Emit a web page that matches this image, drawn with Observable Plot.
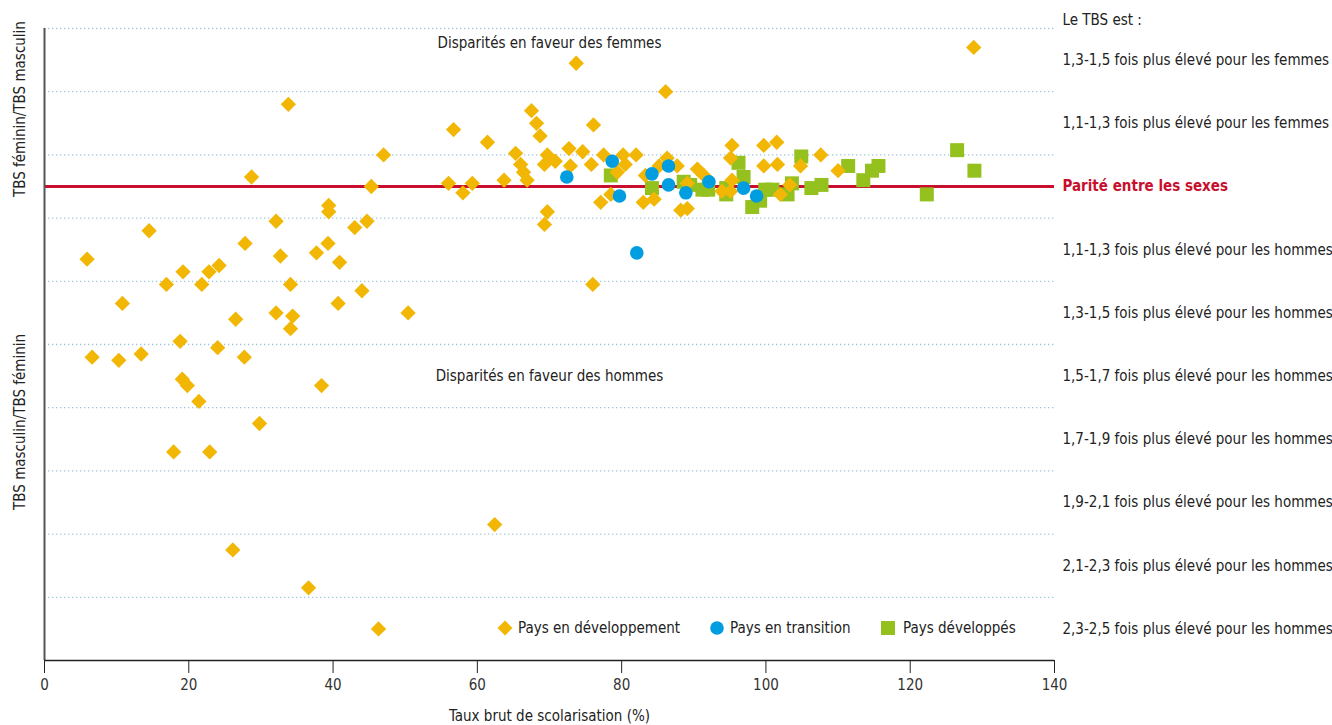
<!DOCTYPE html>
<html>
<head>
<meta charset="utf-8">
<script src="https://cdn.jsdelivr.net/npm/d3@7"></script>
<script src="https://cdn.jsdelivr.net/npm/@observablehq/plot@0.6"></script>
<style>
  html, body { margin: 0; padding: 0; background: #fff; }
  #wrap { position: relative; width: 1332px; height: 725px; }
  .lg { position: absolute; font-family: "DejaVu Sans Condensed", "Liberation Sans Narrow", sans-serif; font-size: 15px; color: #222; white-space: nowrap; line-height: 18px; }
</style>
</head>
<body>
<div id="wrap"></div>
<script>
// ---- Data: x = taux brut de scolarisation (%), y = écart de parité
// (y > 0 : TBS féminin/TBS masculin − 1 ; y < 0 : −(TBS masculin/TBS féminin − 1))
const paysEnDeveloppement = [
  [5.9,-0.23],[14.5,-0.14],[10.8,-0.37],[6.6,-0.54],[10.3,-0.55],[13.4,-0.53],[16.9,-0.31],[19.2,-0.27],
  [18.8,-0.49],[19.1,-0.61],[19.8,-0.63],[21.4,-0.68],[17.9,-0.84],[22.9,-0.84],[21.8,-0.31],[22.8,-0.27],
  [24.2,-0.25],[24.0,-0.51],[26.5,-0.42],[27.7,-0.54],[27.8,-0.18],[28.7,0.03],[29.8,-0.75],[32.1,-0.11],
  [32.7,-0.22],[32.1,-0.40],[34.1,-0.31],[34.4,-0.41],[34.1,-0.45],[33.8,0.26],[37.7,-0.21],[39.3,-0.18],
  [39.4,-0.06],[39.4,-0.08],[40.9,-0.24],[40.7,-0.37],[38.4,-0.63],[43.0,-0.13],[44.7,-0.11],[44.0,-0.33],
  [45.3,0.00],[47.0,0.10],[50.4,-0.40],[26.1,-1.15],[36.6,-1.27],[46.3,-1.40],[62.4,-1.07],[76.0,-0.31],
  [56.7,0.18],[56.0,0.01],[58.0,-0.02],[59.3,0.01],[61.4,0.14],[63.7,0.02],[65.3,0.105],[66.0,0.07],
  [66.4,0.045],[66.9,0.02],[67.5,0.24],[68.2,0.20],[68.7,0.16],[69.7,0.10],[69.3,0.07],[70.8,0.08],
  [69.7,-0.08],[69.3,-0.12],[73.7,0.39],[72.7,0.12],[72.9,0.065],[74.6,0.11],[75.8,0.07],[76.1,0.195],
  [77.5,0.10],[77.1,-0.05],[78.5,-0.025],[79.4,0.045],[80.2,0.10],[80.5,0.07],[82.0,0.10],[83.0,-0.05],
  [84.5,-0.04],[86.1,0.30],[85.2,0.065],[86.3,0.09],[87.7,0.065],[88.2,-0.075],[89.1,-0.07],[89.1,0.01],
  [90.5,0.055],[91.4,0.035],[83.3,0.035],[93.9,-0.015],[95.1,-0.015],[95.3,0.02],[95.3,0.13],[95.1,0.09],
  [99.7,0.13],[101.5,0.14],[99.7,0.065],[101.6,0.07],[104.8,0.065],[107.6,0.10],[110.0,0.05],[102.0,-0.025],
  [103.3,0.005],[128.8,0.44]
];
const paysEnTransition = [
  [72.4,0.03],[78.7,0.08],[79.7,-0.03],[84.2,0.04],[86.5,0.065],[86.5,0.005],[88.9,-0.02],[92.1,0.015],
  [96.9,-0.005],[98.7,-0.03],[82.1,-0.21]
];
const paysDeveloppes = [
  [78.5,0.035],[84.2,-0.005],[88.6,0.015],[89.5,0.005],[91.2,-0.01],[92.0,-0.01],[94.5,-0.025],[94.5,-0.005],
  [96.2,0.075],[96.9,0.03],[98.1,-0.065],[99.2,-0.045],[99.9,-0.01],[100.9,-0.01],[103.0,-0.025],[103.6,0.01],
  [104.9,0.095],[106.3,-0.005],[107.7,0.005],[111.4,0.065],[113.5,0.02],[114.7,0.05],[115.6,0.065],[122.3,-0.025],
  [126.5,0.115],[128.9,0.05]
];
const xTicks = [0, 20, 40, 60, 80, 100, 120, 140];
const gridLevels = [0.5, 0.3, 0.1, -0.1, -0.3, -0.5, -0.7, -0.9, -1.1, -1.3];
const bandCenters = [0.4, 0.2, -0.2, -0.4, -0.6, -0.8, -1.0, -1.2, -1.4];
const bandLabels = [
  "1,3-1,5 fois plus élevé pour les femmes",
  "1,1-1,3 fois plus élevé pour les femmes",
  "1,1-1,3 fois plus élevé pour les hommes",
  "1,3-1,5 fois plus élevé pour les hommes",
  "1,5-1,7 fois plus élevé pour les hommes",
  "1,7-1,9 fois plus élevé pour les hommes",
  "1,9-2,1 fois plus élevé pour les hommes",
  "2,1-2,3 fois plus élevé pour les hommes",
  "2,3-2,5 fois plus élevé pour les hommes"
];
const seriesNames = ["Pays en développement", "Pays en transition", "Pays développés"];
const seriesColors = ["#f2b705", "#009ee0", "#95c11f"];

const FONT = '"DejaVu Sans Condensed", "Liberation Sans Narrow", sans-serif';
const FS = 15;
const rows = arr => arr.map(([x, y]) => ({x, y}));
const bands = bandCenters.map((y, i) => ({y, label: bandLabels[i]}));

const chart = Plot.plot({
  width: 1332,
  height: 725,
  marginTop: 28,
  marginBottom: 65,
  marginLeft: 44,
  marginRight: 278,
  x: {domain: [0, 140]},
  y: {domain: [-1.5, 0.5], axis: null},
  style: {fontFamily: FONT, fontSize: FS + "px", color: "#222", background: "#fff"},
  marks: [
    Plot.ruleY(gridLevels, {stroke: "#9fc5dd", strokeWidth: 1.3, strokeDasharray: "1.3 2.7"}),
    Plot.ruleY([0], {stroke: "#c8102e", strokeWidth: 3}),
    Plot.ruleX([0], {stroke: "#555", strokeWidth: 2}),
    Plot.ruleY([-1.5], {stroke: "#222", strokeWidth: 1.5}),
    Plot.axisX({ticks: xTicks, tickSize: 13, tickPadding: 6, label: null, stroke: "#222", fill: "#333", fontSize: FS}),
    Plot.text(["Taux brut de scolarisation (%)"], {frameAnchor: "bottom", dy: 56, lineAnchor: "middle", fill: "#222", fontSize: FS}),
    Plot.dot(rows(paysDeveloppes), {x: "x", y: "y", symbol: d3.symbolSquare, r: 7.9, fill: seriesColors[2]}),
    Plot.dot(rows(paysEnDeveloppement), {x: "x", y: "y", symbol: d3.symbolDiamond2, r: 6.9, fill: seriesColors[0]}),
    Plot.dot(rows(paysEnTransition), {x: "x", y: "y", symbol: "circle", r: 6.8, fill: seriesColors[1]}),
    Plot.text(["Disparités en faveur des femmes"], {x: 70, y: 0.455, fill: "#222", fontSize: FS, lineAnchor: "middle"}),
    Plot.text(["Disparités en faveur des hommes"], {x: 70, y: -0.6, fill: "#222", fontSize: FS, lineAnchor: "middle"}),
    Plot.text([{y: 0.245, t: "TBS féminin/TBS masculin"}, {y: -0.745, t: "TBS masculin/TBS féminin"}],
      {y: "y", text: "t", frameAnchor: "left", dx: -24, rotate: -90, textAnchor: "middle", fill: "#222", fontSize: FS, lineAnchor: "middle"}),
    Plot.text(bands, {y: "y", text: "label", frameAnchor: "right", dx: 8, textAnchor: "start", fill: "#222", fontSize: FS, lineAnchor: "middle"}),
    Plot.text([{y: 0, t: "Parité entre les sexes"}], {y: "y", text: "t", frameAnchor: "right", dx: 8, textAnchor: "start", fill: "#c8102e", fontWeight: "bold", fontSize: FS, lineAnchor: "middle"}),
    Plot.text(["Le TBS est :"], {frameAnchor: "top-right", dx: 8, dy: -8, textAnchor: "start", lineAnchor: "middle", fill: "#222", fontSize: FS})
  ]
});
const wrap = document.getElementById("wrap");
wrap.appendChild(chart);

// Legend (HTML, placed over the lower part of the plot)
const legendItems = [
  {name: seriesNames[0], color: seriesColors[0], shape: "diamond", sx: 497, tx: 518},
  {name: seriesNames[1], color: seriesColors[1], shape: "circle", sx: 710, tx: 730},
  {name: seriesNames[2], color: seriesColors[2], shape: "square", sx: 881, tx: 903}
];
legendItems.forEach(it => {
  const sw = document.createElement("div");
  sw.className = "lg";
  sw.style.left = it.sx + "px";
  sw.style.top = "620px";
  let shape;
  if (it.shape === "diamond") shape = `<polygon points="8,0.5 15.5,8 8,15.5 0.5,8" fill="${it.color}"/>`;
  else if (it.shape === "circle") shape = `<circle cx="7" cy="8" r="6.8" fill="${it.color}"/>`;
  else shape = `<rect x="0" y="1" width="14" height="14" fill="${it.color}"/>`;
  sw.innerHTML = `<svg width="16" height="16" style="display:block">${shape}</svg>`;
  wrap.appendChild(sw);
  const tx = document.createElement("div");
  tx.className = "lg";
  tx.style.left = it.tx + "px";
  tx.style.top = "619px";
  tx.textContent = it.name;
  wrap.appendChild(tx);
});
</script>
</body>
</html>
